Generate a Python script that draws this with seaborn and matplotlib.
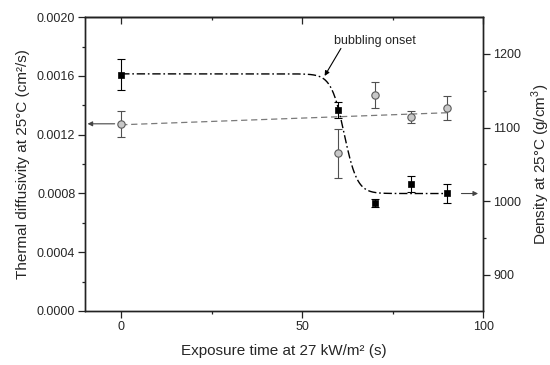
import numpy as np
import pandas as pd
import matplotlib
matplotlib.use("Agg")
import matplotlib.pyplot as plt
import seaborn as sns

# exposure times (s)
time_s = [0, 60, 70, 80, 90]

# thermal diffusivity (cm2/s), left axis, grey circles
diffusivity = [0.001274, 0.001073, 0.001469, 0.001318, 0.001383]
diffusivity_err = [0.00009, 0.000165, 0.00009, 0.00004, 0.00008]

# density (g/cm3 scaled as in figure), right axis, black squares
density = [1171.5, 1124, 997.7, 1023, 1011]
density_err = [21, 11, 5, 11, 13]

# Boltzmann fit through density points: upper, lower, centre, width
boltz = [1173, 1010.5, 61.6, 1.8]

sns.set_style("ticks")
plt.rcParams["font.family"] = ["Liberation Sans", "DejaVu Sans"]
plt.rcParams["mathtext.fontset"] = "custom"
plt.rcParams["mathtext.rm"] = "Liberation Sans"

fig = plt.figure(figsize=(5.5, 3.65), dpi=100)
ax = fig.add_axes([0.1545, 0.148, 0.724, 0.805])
ax2 = ax.twinx()

# weighted linear fit of diffusivity
coef = np.polyfit(time_s, diffusivity, 1, w=1 / np.array(diffusivity_err))
fit_x = np.linspace(0, 90, 50)
lin = pd.DataFrame({"t": fit_x, "y": np.polyval(coef, fit_x)})
sns.lineplot(data=lin, x="t", y="y", ax=ax, color="#7a7a7a", lw=0.9,
             linestyle=(0, (5, 3)))

ax.errorbar(time_s, diffusivity, yerr=diffusivity_err, fmt="none",
            ecolor="#505050", elinewidth=0.8, capsize=3, capthick=0.8, zorder=3)
sns.scatterplot(x=time_s, y=diffusivity, ax=ax, marker="o", s=28,
                color="#c8c8c8", edgecolor="#5a5a5a", linewidth=0.8, zorder=4)

# Boltzmann curve for density
bx = np.linspace(0, 90, 400)
by = boltz[1] + (boltz[0] - boltz[1]) / (1 + np.exp((bx - boltz[2]) / boltz[3]))
curve = pd.DataFrame({"t": bx, "y": by})
sns.lineplot(data=curve, x="t", y="y", ax=ax2, color="black", lw=1.0,
             linestyle=(0, (6, 2, 1.2, 2)))

ax2.errorbar(time_s, density, yerr=density_err, fmt="none", ecolor="black",
             elinewidth=0.8, capsize=3, capthick=0.8, zorder=3)
sns.scatterplot(x=time_s, y=density, ax=ax2, marker="s", s=22,
                color="black", edgecolor="black", linewidth=0.5, zorder=4)

# axis arrows
ax.annotate("", xy=(-9.3, diffusivity[0]), xytext=(-1.8, diffusivity[0]),
            arrowprops=dict(arrowstyle="-|>", color="#444444", lw=0.8,
                            mutation_scale=7, shrinkA=0, shrinkB=0))
ax2.annotate("", xy=(98.6, boltz[1]), xytext=(94, boltz[1]),
             arrowprops=dict(arrowstyle="-|>", color="#444444", lw=0.8,
                             mutation_scale=7, shrinkA=0, shrinkB=0))

ax.text(70, 0.001839, "bubbling onset", ha="center", va="center", fontsize=9)
ax.annotate("", xy=(56.2, 0.0016), xytext=(60.7, 0.001787),
            arrowprops=dict(arrowstyle="-|>", color="black", lw=0.8,
                            mutation_scale=7, shrinkA=0, shrinkB=0))

ax.set_xlim(-10, 100)
ax.set_ylim(0, 0.002)
ax2.set_ylim(851, 1250)

ax.set_xticks([0, 50, 100])
ax.set_xticks([25, 75], minor=True)
ax.set_yticks(np.arange(0, 0.00201, 0.0004))
ax.set_yticks(np.arange(0.0002, 0.002, 0.0004), minor=True)
ax.set_yticklabels([f"{v:.4f}" for v in np.arange(0, 0.00201, 0.0004)])
ax2.set_yticks([900, 1000, 1100, 1200])
ax2.set_yticks([950, 1050, 1150], minor=True)

for a in (ax, ax2):
    for s in a.spines.values():
        s.set_visible(True)
        s.set_linewidth(1.0)
        s.set_color("#222222")

ax.tick_params(axis="both", which="major", direction="out", length=5,
               width=0.9, labelsize=9, pad=2, color="#222222")
ax.tick_params(axis="both", which="minor", direction="out", length=2.5,
               width=0.9, color="#222222")
ax2.tick_params(axis="y", which="major", direction="out", length=5,
                width=0.9, labelsize=9, pad=2, color="#222222")
ax2.tick_params(axis="y", which="minor", direction="out", length=2.5,
                width=0.9, color="#222222")

top = ax.secondary_xaxis("top")
top.set_xticks([0, 50, 100])
top.set_xticks([25, 75], minor=True)
top.tick_params(which="major", direction="in", length=5, width=0.9,
                labeltop=False)
top.tick_params(which="minor", direction="in", length=2.5, width=0.9)
top.spines["top"].set_linewidth(1.0)

ax.set_xlabel("Exposure time at 27 kW/m² (s)", fontsize=11, labelpad=8)
ax.set_ylabel("Thermal diffusivity at 25°C (cm²/s)", fontsize=11, labelpad=5)
ax2.set_ylabel(r"Density at 25°C (g/cm$^3$)", fontsize=11, labelpad=6)

fig.savefig("out.png", dpi=100)
